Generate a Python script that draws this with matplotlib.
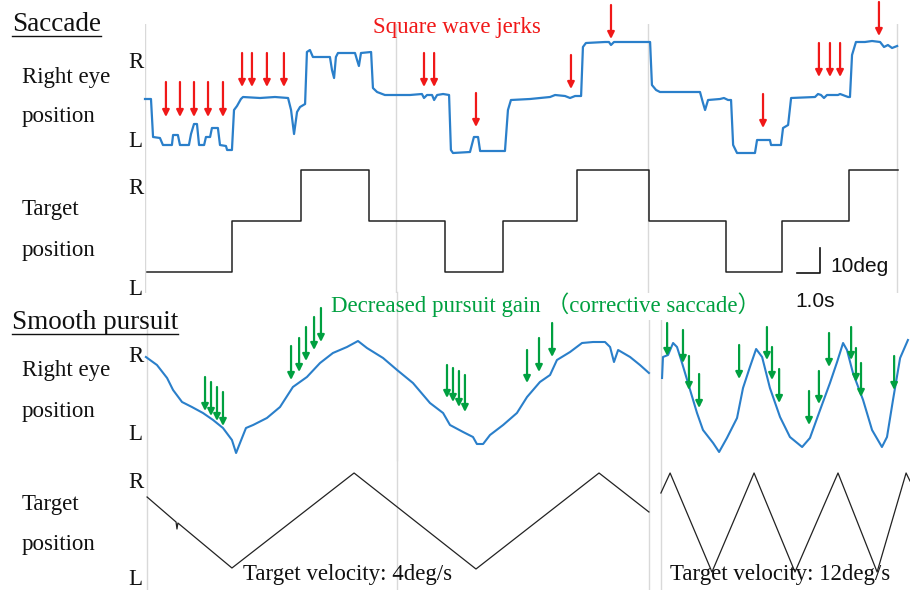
import matplotlib
matplotlib.use("Agg")
import matplotlib.pyplot as plt
from matplotlib.lines import Line2D

# -----------------------------
# Data (time in s, position in deg)
# -----------------------------
SACC_EYE_T = [0.00, 0.26, 0.35, 0.65, 0.78, 1.17, 1.22, 1.43, 1.52, 1.91, 2.00, 2.13,
              2.26, 2.35, 2.57, 2.65, 2.83, 2.91, 3.17, 3.26, 3.52, 3.57, 3.78, 3.87,
              4.00, 4.17, 4.26, 5.00, 5.65, 6.22, 6.35, 6.48, 6.61, 6.74, 6.96, 7.04,
              7.17, 7.30, 8.04, 8.13, 8.22, 8.30, 8.39, 9.13, 9.22, 9.30, 9.39, 9.83,
              9.91, 10.09, 10.43, 11.52, 12.04, 12.13, 12.26, 12.48, 12.57, 12.70, 12.96,
              13.22, 13.30, 13.39, 14.13, 14.30, 14.48, 14.57, 15.65, 15.78, 15.91, 16.74,
              17.61, 17.83, 18.26, 18.48, 18.70, 18.96, 19.04, 19.17, 20.00, 20.17, 20.26,
              20.39, 21.96, 22.04, 22.22, 22.39, 24.13, 24.26, 24.35, 24.48, 25.00, 25.17,
              25.35, 25.48, 25.57, 25.74, 26.52, 26.61, 27.17, 27.22, 27.65, 27.74, 27.96,
              28.09, 29.13, 29.26, 29.39, 29.52, 29.65, 30.13, 30.22, 30.57, 30.65, 30.74,
              30.91, 31.30, 31.61, 31.96, 32.13, 32.30, 32.48, 32.70]
SACC_EYE_DEG = [-0.4, -0.4, -15.6, -16.0, -18.8, -18.8, -14.8, -14.8, -18.8, -18.8, -14.4, -10.4,
                -10.4, -18.8, -18.8, -15.6, -15.6, -12.0, -12.0, -18.8, -19.2, -20.8, -20.8, -4.8,
                -3.2, -0.4, 0.4, 0.0, 0.4, 0.0, -4.8, -14.4, -5.6, -3.6, -2.4, 18.4,
                19.2, 16.4, 16.4, 11.2, 8.0, 16.4, 18.0, 18.0, 15.2, 12.8, 18.0, 18.4,
                4.0, 2.4, 1.2, 1.2, 1.6, 0.0, 1.2, 1.2, -0.8, 1.2, 1.6,
                1.2, -20.8, -22.0, -21.6, -15.6, -15.6, -21.2, -21.2, -4.8, -0.8, -0.4,
                0.4, 1.2, 0.8, 0.0, 0.8, 0.8, 20.4, 22.0, 22.4, 22.4, 21.2,
                22.4, 22.4, 5.2, 3.2, 2.4, 2.4, -2.0, -4.8, -0.8, -0.4, 0.0,
                -0.8, -0.8, -18.8, -22.0, -22.0, -16.8, -16.8, -18.8, -18.8, -12.0, -10.8,
                0.0, 0.4, 1.6, 1.2, 0.0, 1.2, 1.2, 1.6, 0.4, 0.4, 17.2,
                22.4, 22.4, 22.8, 22.4, 20.4, 21.2, 20.0, 20.8]

SACC_TARGET_T = [0.09, 3.78, 6.78, 9.74, 13.04, 15.57, 18.78, 21.91, 25.26, 27.70, 30.61, 32.74]
SACC_TARGET_DEG = [-20, 0, 20, 0, -20, 0, 20, 0, -20, 0, 20, 20]

# square wave jerk arrows: time, arrow top, arrow tip
JERK_T = [0.91, 1.52, 2.13, 2.74, 3.39, 4.22, 4.65, 5.30, 6.04, 12.13, 12.57, 14.39,
          18.52, 20.26, 26.87, 29.30, 29.78, 30.22, 31.91]
JERK_TOP = [6.4, 6.4, 6.4, 6.4, 6.4, 18.0, 18.0, 18.0, 18.0, 18.0, 18.0, 2.0,
            17.2, 37.2, 1.6, 22.0, 22.0, 22.0, 38.4]
JERK_TIP = [-7.6, -7.6, -7.6, -7.6, -7.6, 4.4, 4.4, 4.4, 4.4, 4.4, 4.4, -11.6,
            3.6, 23.6, -12.0, 8.4, 8.4, 8.4, 24.8]

PURS_EYE_SLOW_T = [0.04, 0.52, 0.96, 1.22, 1.61, 2.04, 2.52, 2.96, 3.39, 3.78, 3.96, 4.13,
                   4.39, 4.70, 5.30, 5.87, 6.43, 7.04, 7.61, 8.17, 8.78, 9.26, 9.65, 10.35,
                   10.96, 11.65, 12.39, 12.96, 13.26, 13.83, 14.26, 14.43, 14.70, 15.00, 15.57,
                   16.17, 16.61, 17.17, 17.61, 17.91, 18.48, 19.00, 19.48, 20.00, 20.22, 20.39,
                   20.57, 21.09, 21.52, 21.91]
PURS_EYE_SLOW_DEG = [15.2, 12.0, 6.8, 2.0, -2.8, -4.8, -7.2, -10.0, -13.2, -18.0, -23.2, -19.2,
                     -13.2, -12.0, -9.2, -4.8, 3.2, 7.2, 12.8, 16.8, 19.2, 21.6, 18.8, 14.8,
                     10.0, 4.8, -3.2, -7.2, -12.0, -14.8, -16.8, -19.6, -19.6, -16.0, -12.0,
                     -7.2, -0.8, 5.2, 8.0, 14.0, 17.2, 20.8, 21.2, 21.2, 19.2, 13.2,
                     18.0, 15.2, 12.0, 8.8]
PURS_EYE_FAST_T = [22.48, 22.52, 22.74, 22.96, 23.13, 23.35, 23.70, 24.00, 24.26, 24.70, 24.96,
                   25.30, 25.74, 26.00, 26.30, 26.57, 26.83, 27.17, 27.61, 28.04, 28.57, 28.91,
                   29.35, 29.78, 30.09, 30.35, 30.52, 30.78, 31.22, 31.61, 32.04, 32.26, 32.52,
                   32.83, 33.17]
PURS_EYE_FAST_DEG = [6.8, 15.2, 16.0, 20.8, 19.2, 12.8, 2.0, -7.2, -14.0, -19.2, -22.8,
                     -17.2, -9.2, 2.8, 11.2, 18.4, 15.2, 2.8, -8.8, -16.8, -20.8, -17.2,
                     -6.0, 4.8, 13.2, 20.8, 18.0, 8.8, -2.0, -14.0, -20.8, -16.8, -2.0,
                     14.8, 22.0]

PURS_TARGET_SLOW_T = [0.09, 1.35, 1.39, 1.43, 3.78, 9.09, 14.39, 19.74, 21.91]
PURS_TARGET_SLOW_DEG = [9.6, -0.4, -3.2, -0.8, -18.8, 19.2, -19.2, 19.2, 3.6]
PURS_TARGET_FAST_T = [22.43, 22.83, 24.65, 26.48, 28.26, 30.13, 31.83, 33.09, 33.26]
PURS_TARGET_FAST_DEG = [11.2, 19.2, -20.4, 19.2, -20.4, 19.2, -20.4, 19.2, 16.0]

# corrective saccade arrows
CORR_T = [2.61, 2.87, 3.13, 3.39, 6.35, 6.70, 7.00, 7.35, 7.65, 13.13, 13.39, 13.65, 13.91,
          16.61, 17.13, 17.70, 22.70, 23.39, 23.65, 24.09, 25.83, 27.04, 27.26, 27.57,
          28.87, 29.30, 29.74, 30.70, 30.91, 31.13, 32.57]
CORR_TOP = [7.2, 5.2, 3.2, 1.2, 19.6, 22.8, 27.2, 31.2, 34.8, 12.0, 10.8, 9.6, 8.0,
            18.0, 22.8, 28.8, 28.8, 26.0, 15.6, 8.4, 20.0, 27.2, 19.2, 10.4,
            1.6, 9.6, 24.8, 27.2, 18.8, 12.8, 15.6]
CORR_TIP = [-6.4, -8.4, -10.4, -12.4, 6.0, 9.2, 13.6, 18.0, 21.2, -1.2, -2.8, -4.8, -6.8,
            4.8, 9.2, 15.2, 15.6, 12.8, 2.0, -5.2, 6.4, 14.0, 6.0, -3.2,
            -12.0, -3.6, 11.2, 14.0, 5.2, -0.8, 2.0]

SACC_SEPARATORS = [0.0, 10.91, 21.87, 32.70]
PURS_SEPARATORS = [0.09, 10.96, 21.91, 22.43]

SCALE_TIME = 1.0
SCALE_DEG = 10
SCALE_ANCHOR = (29.35, -20.4)

# -----------------------------
# Style
# -----------------------------
W, H = 910, 590
BLUE = "#2a7fca"
RED = "#f01818"
GREEN = "#00a040"
GRAY = "#d9d9d9"
SERIF = "Liberation Serif"
T_MAX = 33.26

fig = plt.figure(figsize=(W / 100, H / 100), dpi=100)


def panel(top, bottom, deg_top, deg_bottom):
    ax = fig.add_axes([145 / W, 1 - bottom / H, (W - 145) / W, (bottom - top) / H])
    ax.set_xlim(0, T_MAX)
    ax.set_ylim(deg_bottom, deg_top)
    ax.axis("off")
    return ax


def label(x, y, s, **kw):
    kw.setdefault("family", SERIF)
    kw.setdefault("fontsize", 16.5)
    kw.setdefault("color", "#111111")
    return fig.text(x / W, 1 - y / H, s, va="baseline", ha="left", **kw)


def arrows(ax, ts, tops, tips, color):
    for t, a, b in zip(ts, tops, tips):
        ax.annotate("", xy=(t, b), xytext=(t, a), annotation_clip=False,
                    arrowprops=dict(arrowstyle="-|>", color=color, lw=1.6,
                                    mutation_scale=10, shrinkA=0, shrinkB=0))


# Saccade section
ax_se = panel(24, 160, 29.6, -24.8)
ax_st = panel(160, 293, 23.9, -28.2)
for ax in (ax_se, ax_st):
    for t in SACC_SEPARATORS:
        ax.axvline(t, color=GRAY, lw=1.0, zorder=0)

ax_se.plot(SACC_EYE_T, SACC_EYE_DEG, color=BLUE, lw=1.6, clip_on=False)
arrows(ax_se, JERK_T, JERK_TOP, JERK_TIP, RED)
ax_st.plot(SACC_TARGET_T, SACC_TARGET_DEG, color="#222222", lw=1.1, drawstyle="steps-post")

# scale bar
sx, sy = SCALE_ANCHOR
ax_st.plot([sx - SCALE_TIME, sx, sx], [sy, sy, sy + SCALE_DEG], color="#111111", lw=1.2)

# Smooth pursuit section
ax_pe = panel(320, 460, 30.0, -26.0)
ax_pt = panel(460, 590, 24.4, -27.6)
for ax in (ax_pe, ax_pt):
    for t in PURS_SEPARATORS:
        ax.axvline(t, color=GRAY, lw=1.0, zorder=0)
ax_pe.axvline(PURS_SEPARATORS[1], ymax=1.2, color=GRAY, lw=1.0, zorder=0, clip_on=False)

ax_pe.plot(PURS_EYE_SLOW_T, PURS_EYE_SLOW_DEG, color=BLUE, lw=1.5, clip_on=False)
ax_pe.plot(PURS_EYE_FAST_T, PURS_EYE_FAST_DEG, color=BLUE, lw=1.5, clip_on=False)
arrows(ax_pe, CORR_T, CORR_TOP, CORR_TIP, GREEN)
ax_pt.plot(PURS_TARGET_SLOW_T, PURS_TARGET_SLOW_DEG, color="#222222", lw=0.9, clip_on=False)
ax_pt.plot(PURS_TARGET_FAST_T, PURS_TARGET_FAST_DEG, color="#222222", lw=0.9, clip_on=False)

# -----------------------------
# Texts
# -----------------------------
title1 = label(12, 31, "Saccade", fontsize=19.5)
title2 = label(12, 329, "Smooth pursuit", fontsize=19.5)
label(373, 33, "Square wave jerks", color=RED)
label(22, 83, "Right eye")
label(22, 122, "position")
label(128, 68, "R")
label(128, 147, "L")
label(22, 215, "Target")
label(22, 256, "position")
label(128, 194, "R")
label(128, 295, "L")
label(830, 272, "10deg", family="Liberation Sans", fontsize=15)
label(795, 307, "1.0s", family="Liberation Sans", fontsize=15)
label(331, 312, "Decreased pursuit gain （corrective saccade）", color=GREEN,
      family=[SERIF, "Noto Sans CJK JP"])
label(22, 376, "Right eye")
label(22, 417, "position")
label(128, 362, "R")
label(128, 440, "L")
label(22, 510, "Target")
label(22, 550, "position")
label(128, 488, "R")
label(128, 585, "L")
label(243, 580, "Target velocity: 4deg/s")
label(670, 580, "Target velocity: 12deg/s")

# underline titles
fig.canvas.draw()
renderer = fig.canvas.get_renderer()
for txt in (title1, title2):
    bb = txt.get_window_extent(renderer)
    y = bb.y0 + 1
    fig.add_artist(Line2D([bb.x0 / W, bb.x1 / W], [y / H, y / H], color="#111111", lw=1.0))

fig.savefig("out.png", dpi=100)
